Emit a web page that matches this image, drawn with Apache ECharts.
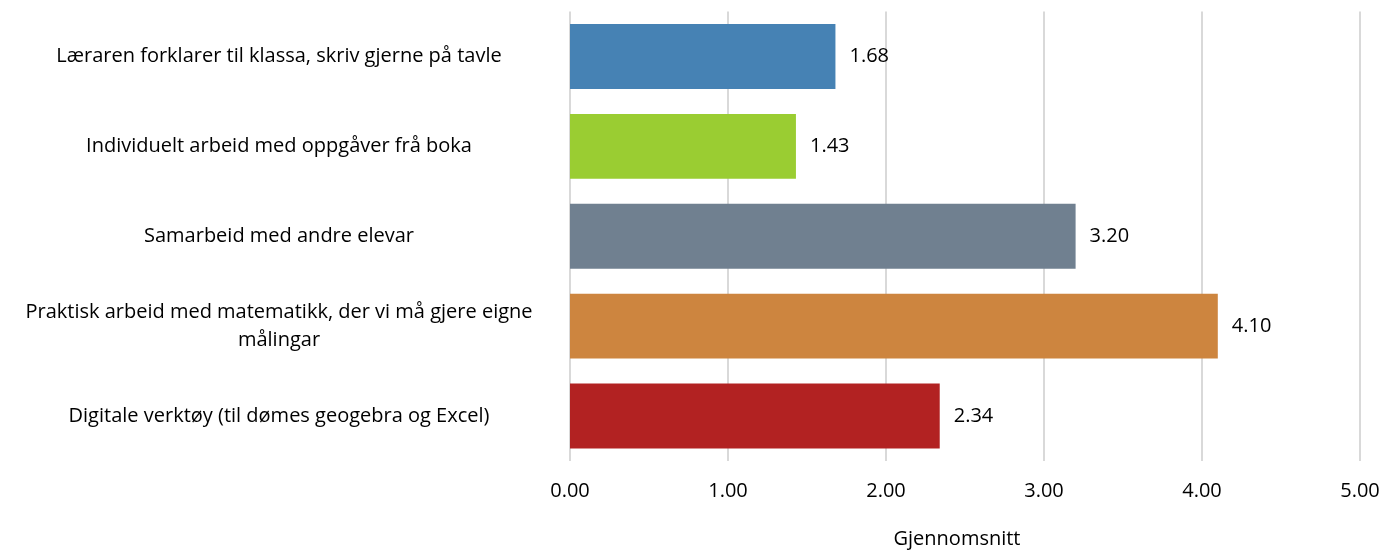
<!DOCTYPE html>
<html>
<head>
<meta charset="utf-8">
<script src="https://cdn.jsdelivr.net/npm/echarts@6/dist/echarts.min.js"></script>
<style>
  html, body { margin: 0; padding: 0; background: #fff; }
  #chart { width: 1397px; height: 554px; }
</style>
</head>
<body>
<div id="chart"></div>
<script>
// Teaching methods and their mean score
const categories = [
  'Læraren forklarer til klassa, skriv gjerne på tavle',
  'Individuelt arbeid med oppgåver frå boka',
  'Samarbeid med andre elevar',
  'Praktisk arbeid med matematikk, der vi må gjere eigne\nmålingar',
  'Digitale verktøy (til dømes geogebra og Excel)'
];
const values = [1.68, 1.43, 3.20, 4.10, 2.34];
const barColors = ['#4682B4', '#9ACD32', '#708090', '#CD853F', '#B22222'];
const axisName = 'Gjennomsnitt';

const FONT = '"Open Sans", Lato, sans-serif';
const SIZE = 20;

const chart = echarts.init(document.getElementById('chart'), null, { renderer: 'canvas' });
chart.setOption({
  animation: false,
  grid: { left: 570, right: 37, top: 11.5, bottom: 92.5, containLabel: false },
  xAxis: {
    type: 'value',
    min: 0,
    max: 5,
    interval: 1,
    name: axisName,
    nameLocation: 'middle',
    nameGap: 68,
    nameTextStyle: { fontFamily: FONT, fontSize: SIZE, color: '#000', padding: [0, 16, 0, 0] },
    axisLine: { show: false },
    axisTick: { show: false },
    axisLabel: {
      fontFamily: FONT, fontSize: SIZE, color: '#000', margin: 20,
      formatter: v => v.toFixed(2)
    },
    splitLine: { show: true, lineStyle: { color: '#d9d9d9', width: 2 } }
  },
  yAxis: {
    type: 'category',
    data: categories,
    inverse: true,
    axisLine: { show: false },
    axisTick: { show: false },
    axisLabel: {
      fontFamily: FONT, fontSize: SIZE, color: '#000',
      align: 'center', margin: 291, lineHeight: 28
    }
  },
  series: [{
    type: 'bar',
    data: values.map((v, i) => ({ value: v, itemStyle: { color: barColors[i] } })),
    barCategoryGap: '27.8%',
    label: {
      show: true,
      position: 'right',
      distance: 14,
      fontFamily: FONT, fontSize: SIZE, color: '#000',
      formatter: p => p.value.toFixed(2)
    }
  }]
});
</script>
</body>
</html>
